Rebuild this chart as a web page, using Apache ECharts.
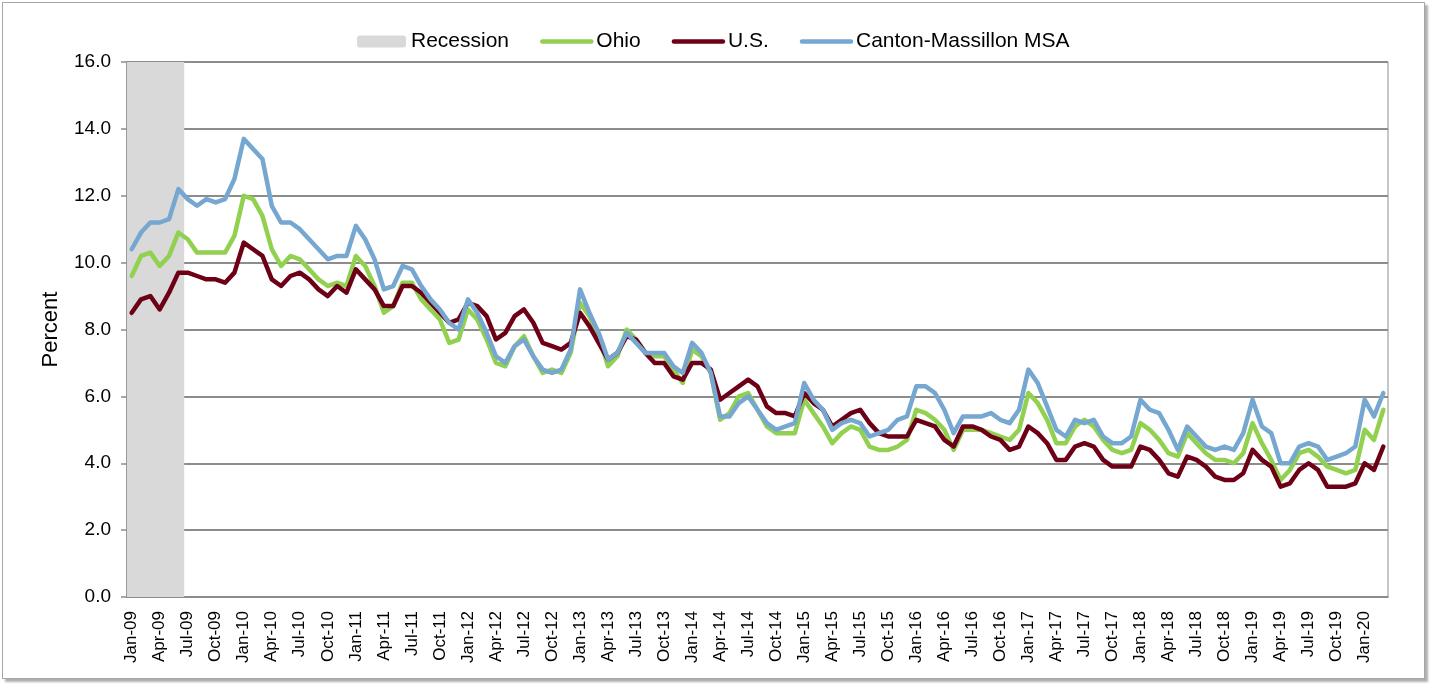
<!DOCTYPE html>
<html>
<head>
<meta charset="utf-8">
<script src="https://cdn.jsdelivr.net/npm/echarts@6/dist/echarts.min.js"></script>
<style>
  html, body { margin: 0; padding: 0; background: #fff; }
  #frame {
    position: absolute; left: 2px; top: 2px; width: 1421px; height: 675px;
    border: 1px solid #a6a6a6; box-shadow: 3px 3px 2px #b0b0b0; background: #fff;
  }
  #chart { position: absolute; left: 0; top: 0; width: 1432px; height: 684px; }
</style>
</head>
<body>
<div id="frame"></div>
<div id="chart"></div>
<script>
// months Jan-09 .. Mar-20
const monthNames = ["Jan", "Feb", "Mar", "Apr", "May", "Jun", "Jul", "Aug", "Sep", "Oct", "Nov", "Dec"];
const months = [];
for (let y = 9; y <= 20; y++) {
  for (let m = 0; m < 12; m++) {
    if (y === 20 && m > 2) break;
    months.push(monthNames[m] + "-" + String(y).padStart(2, "0"));
  }
}

// recession Jan-09 .. Jun-09 (shaded to top of axis)
const recession = [16, 16, 16, 16, 16, 16];

const ohio = [
  9.6, 10.2, 10.3, 9.9, 10.2, 10.9, 10.7, 10.3, 10.3, 10.3, 10.3, 10.8,
  12.0, 11.9, 11.4, 10.4, 9.9, 10.2, 10.1, 9.8, 9.5, 9.3, 9.4, 9.3,
  10.2, 9.9, 9.3, 8.5, 8.7, 9.4, 9.4, 8.9, 8.6, 8.3, 7.6, 7.7,
  8.6, 8.3, 7.7, 7.0, 6.9, 7.5, 7.8, 7.2, 6.7, 6.8, 6.7, 7.3,
  8.8, 8.4, 7.8, 6.9, 7.2, 8.0, 7.7, 7.3, 7.2, 7.2, 6.8, 6.4,
  7.4, 7.2, 6.7, 5.3, 5.5, 6.0, 6.1, 5.6, 5.1, 4.9, 4.9, 4.9,
  5.9, 5.5, 5.1, 4.6, 4.9, 5.1, 5.0, 4.5, 4.4, 4.4, 4.5, 4.7,
  5.6, 5.5, 5.3, 5.0, 4.4, 5.0, 5.0, 5.0, 4.9, 4.8, 4.7, 5.0,
  6.1, 5.8, 5.3, 4.6, 4.6, 5.1, 5.3, 5.1, 4.7, 4.4, 4.3, 4.4,
  5.2, 5.0, 4.7, 4.3, 4.2, 4.9, 4.6, 4.3, 4.1, 4.1, 4.0, 4.3,
  5.2, 4.6, 4.1, 3.5, 3.8, 4.3, 4.4, 4.2, 3.9, 3.8, 3.7, 3.8,
  5.0, 4.7, 5.6
];

const us = [
  8.5, 8.9, 9.0, 8.6, 9.1, 9.7, 9.7, 9.6, 9.5, 9.5, 9.4, 9.7,
  10.6, 10.4, 10.2, 9.5, 9.3, 9.6, 9.7, 9.5, 9.2, 9.0, 9.3, 9.1,
  9.8, 9.5, 9.2, 8.7, 8.7, 9.3, 9.3, 9.1, 8.8, 8.5, 8.2, 8.3,
  8.8, 8.7, 8.4, 7.7, 7.9, 8.4, 8.6, 8.2, 7.6, 7.5, 7.4, 7.6,
  8.5, 8.1, 7.6, 7.1, 7.3, 7.8, 7.7, 7.3, 7.0, 7.0, 6.6, 6.5,
  7.0, 7.0, 6.8, 5.9, 6.1, 6.3, 6.5, 6.3, 5.7, 5.5, 5.5, 5.4,
  6.1, 5.8, 5.6, 5.1, 5.3, 5.5, 5.6, 5.2, 4.9, 4.8, 4.8, 4.8,
  5.3, 5.2, 5.1, 4.7, 4.5, 5.1, 5.1, 5.0, 4.8, 4.7, 4.4, 4.5,
  5.1, 4.9, 4.6, 4.1, 4.1, 4.5, 4.6, 4.5, 4.1, 3.9, 3.9, 3.9,
  4.5, 4.4, 4.1, 3.7, 3.6, 4.2, 4.1, 3.9, 3.6, 3.5, 3.5, 3.7,
  4.4, 4.1, 3.9, 3.3, 3.4, 3.8, 4.0, 3.8, 3.3, 3.3, 3.3, 3.4,
  4.0, 3.8, 4.5
];

const canton = [
  10.4, 10.9, 11.2, 11.2, 11.3, 12.2, 11.9, 11.7, 11.9, 11.8, 11.9, 12.5,
  13.7, 13.4, 13.1, 11.7, 11.2, 11.2, 11.0, 10.7, 10.4, 10.1, 10.2, 10.2,
  11.1, 10.7, 10.1, 9.2, 9.3, 9.9, 9.8, 9.3, 8.9, 8.6, 8.2, 8.0,
  8.9, 8.5, 7.9, 7.2, 7.0, 7.5, 7.7, 7.2, 6.8, 6.7, 6.8, 7.4,
  9.2, 8.5, 7.9, 7.1, 7.3, 7.9, 7.6, 7.3, 7.3, 7.3, 6.9, 6.7,
  7.6, 7.3, 6.7, 5.4, 5.4, 5.8, 6.0, 5.6, 5.2, 5.0, 5.1, 5.2,
  6.4, 5.9, 5.6, 5.0, 5.2, 5.3, 5.2, 4.8, 4.9, 5.0, 5.3, 5.4,
  6.3, 6.3, 6.1, 5.6, 4.9, 5.4, 5.4, 5.4, 5.5, 5.3, 5.2, 5.6,
  6.8, 6.4, 5.7, 5.0, 4.8, 5.3, 5.2, 5.3, 4.8, 4.6, 4.6, 4.8,
  5.9, 5.6, 5.5, 5.0, 4.4, 5.1, 4.8, 4.5, 4.4, 4.5, 4.4, 4.9,
  5.9, 5.1, 4.9, 4.0, 4.0, 4.5, 4.6, 4.5, 4.1, 4.2, 4.3, 4.5,
  5.9, 5.4, 6.1
];

const font = "'Liberation Sans', Arial, sans-serif";
const gray = "#8c8c8c";

const chart = echarts.init(document.getElementById("chart"));

const lineSeries = (name, data, color) => ({
  name,
  type: "line",
  data,
  symbol: "none",
  lineStyle: { color, width: 4.5, join: "round", cap: "round" },
  itemStyle: { color },
  z: 3
});

// legend line items: hide the marker circle, keep only the line
const lineLegend = name => ({ name, itemStyle: { opacity: 0 }, lineStyle: { cap: "round", width: 4.5 } });

chart.setOption({
  animation: false,
  legend: {
    top: 26,
    left: 352,
    itemWidth: 49,
    itemHeight: 12,
    itemGap: 31,
    textStyle: { fontFamily: font, fontSize: 21, color: "#000" },
    data: [
      { name: "Recession" },
      lineLegend("Ohio"),
      lineLegend("U.S."),
      lineLegend("Canton-Massillon MSA")
    ]
  },
  grid: {
    left: 127,
    right: 44,
    top: 62,
    bottom: 87,
    show: true,
    borderColor: gray,
    borderWidth: 1
  },
  xAxis: {
    type: "category",
    data: months,
    boundaryGap: true,
    axisLine: { lineStyle: { color: gray, width: 1.5 } },
    axisTick: { interval: 2, length: 7, lineStyle: { color: gray, width: 1.5 } },
    axisLabel: {
      interval: 2,
      rotate: 90,
      margin: 14,
      fontFamily: font,
      fontSize: 17,
      color: "#000"
    }
  },
  yAxis: {
    type: "value",
    min: 0,
    max: 16,
    interval: 2,
    name: "Percent",
    nameLocation: "middle",
    nameGap: 65,
    nameTextStyle: { fontFamily: font, fontSize: 22, color: "#000" },
    axisLine: { show: true, lineStyle: { color: gray, width: 1.5 } },
    axisTick: { show: true, length: 6, lineStyle: { color: gray, width: 1.5 } },
    axisLabel: {
      formatter: v => v.toFixed(1),
      fontFamily: font,
      fontSize: 19,
      color: "#000",
      margin: 16
    },
    splitLine: { lineStyle: { color: gray, width: 2 } }
  },
  series: [
    {
      name: "Recession",
      type: "bar",
      data: recession,
      barWidth: "125%",
      barCategoryGap: "0%",
      clip: true,
      itemStyle: { color: "#d9d9d9" },
      z: 1
    },
    lineSeries("Ohio", ohio, "#92d050"),
    lineSeries("U.S.", us, "#6d0016"),
    lineSeries("Canton-Massillon MSA", canton, "#75a7d0")
  ]
});
</script>
</body>
</html>
